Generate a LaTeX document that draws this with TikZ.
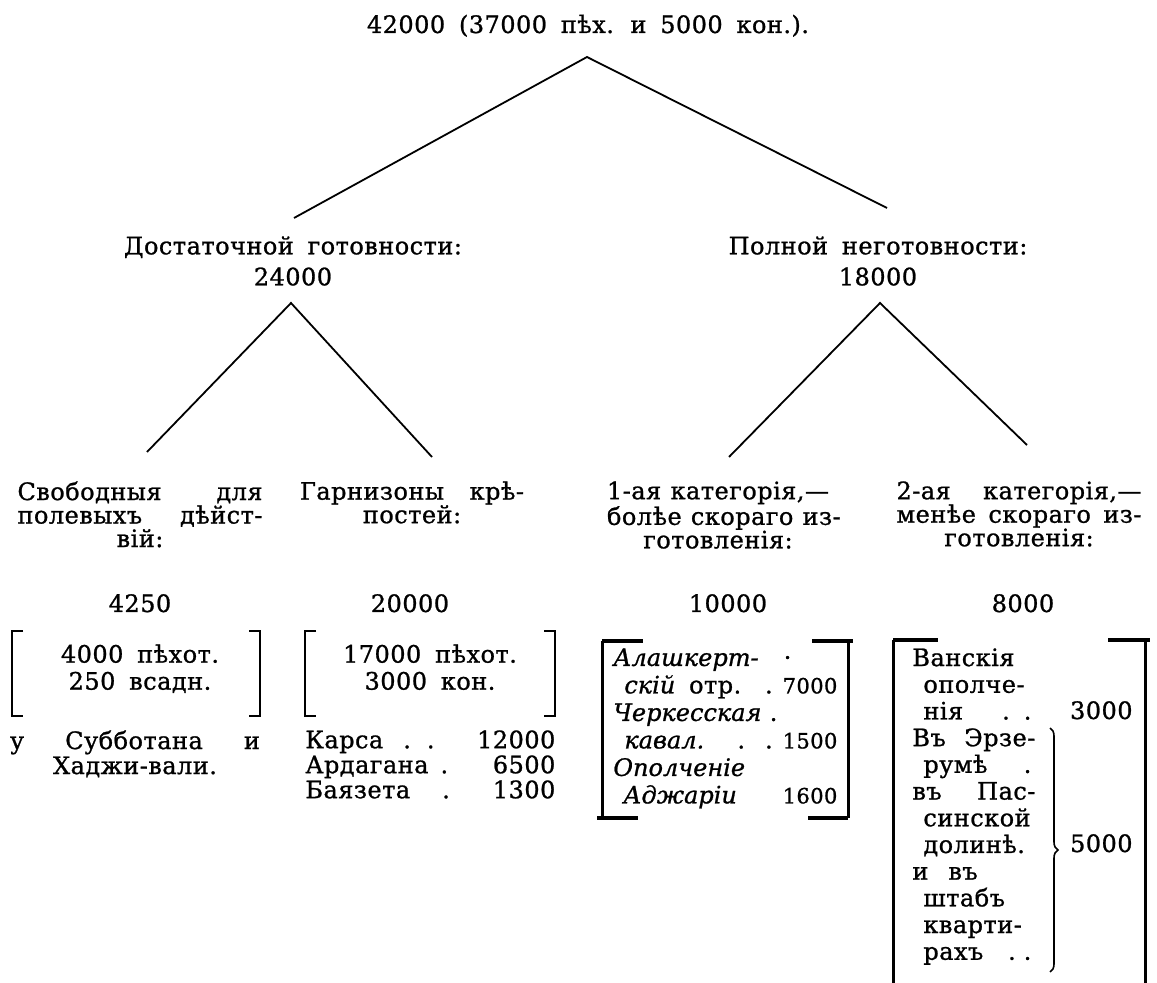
\documentclass[tikz,border=0pt]{standalone}
\usepackage{fontspec}
\setmainfont{DejaVu Serif}[WordSpace=1.7, LetterSpace=2, FakeBold=1, ItalicFeatures={LetterSpace=0}]
\usetikzlibrary{positioning,decorations.pathreplacing}
\tikzset{
  line/.style={line width=0.9pt},
  txt/.style={inner sep=0pt, align=center, font=\fontsize{12}{11.75}\selectfont},
  lvltwo/.style={txt, anchor=north, font=\fontsize{12}{15.5}\selectfont},
  headbox/.style={txt, anchor=north},
  numbox/.style={txt, anchor=base},
  listbox/.style={txt, anchor=north west, align=left, font=\fontsize{12}{13.5}\selectfont},
  thinbrk/.style={line width=1pt},
  thickbrk/.style={line width=1.5pt},
  thickhz/.style={line width=2pt},
  brace/.style={decorate, decoration={brace, amplitude=4pt}, line width=0.8pt}
}
\newcommand{\jl}[2]{\makebox[#1][s]{#2}}
\newcommand{\ind}{\hspace*{5.5pt}}
\newcommand{\sm}[1]{{\fontsize{10.5}{10}\selectfont #1}}

\begin{document}
\begin{tikzpicture}[x=0.5pt, y=-0.5pt]
  \useasboundingbox (0,0) rectangle (1157,983);
  % top
  \node[numbox] (total) at (588,33) {42000 (37000 пѣх. и 5000 кон.).};
  \coordinate (fork0) at (587,57);
  \coordinate (end0l) at (294,218);
  \coordinate (end0r) at (887,208);
  \draw[line] (end0l) -- (fork0) -- (end0r);
  % second level
  \node[lvltwo] (ready) at (293,236) {Достаточной готовности:\\24000};
  \node[lvltwo] (unready) at (878,236) {Полной неготовности:\\18000};
  \coordinate (fork1) at (291,303);
  \coordinate (end1l) at (147,452);
  \coordinate (end1r) at (432,457);
  \coordinate (fork2) at (880,303);
  \coordinate (end2l) at (729,457);
  \coordinate (end2r) at (1027,445);
  \draw[line] (end1l) -- (fork1) -- (end1r);
  \draw[line] (end2l) -- (fork2) -- (end2r);
  % third level
  \node[headbox] (free) at (140,481) {\jl{122.5pt}{Свободныя для}\\\jl{122.5pt}{полевыхъ дѣйст-}\\вій:};
  \node[headbox] (garr) at (412,481) {\jl{112pt}{Гарнизоны крѣ-}\\постей:};
  \node[headbox] (cat1) at (718,481) {\jl{111pt}{1-ая категорія,—}\\\jl{111pt}{болѣе скораго из-}\\готовленія:};
  \node[headbox] (cat2) at (1019,481) {\jl{122.5pt}{2-ая категорія,—}\\\jl{122.5pt}{менѣе скораго из-}\\готовленія:};
  \node[numbox] (freenum) at (140,612) {4250};
  \node[numbox] (garrnum) at (410,612) {20000};
  \node[numbox] (cat1num) at (728,612) {10000};
  \node[numbox] (cat2num) at (1023,612) {8000};
  % column 1
  \draw[thinbrk] (23,631) -- (12,631) -- (12,716) -- (23,716);
  \draw[thinbrk] (249,631) -- (260,631) -- (260,716) -- (249,716);
  \node[headbox, font=\fontsize{12}{13.5}\selectfont] (freein) at (140,644) {4000 пѣхот.\\250 всадн.};
  \node[headbox, font=\fontsize{12}{12.5}\selectfont] (freeat) at (135,730) {\jl{125pt}{у Субботана и}\\Хаджи-вали.};
  % column 2
  \draw[thinbrk] (316,631) -- (305,631) -- (305,716) -- (316,716);
  \draw[thinbrk] (544,631) -- (555,631) -- (555,716) -- (544,716);
  \node[headbox, font=\fontsize{12}{13.5}\selectfont] (garrin) at (430,644) {17000 пѣхот.\\3000 кон.};
  \node[listbox, font=\fontsize{12}{12.5}\selectfont] (garrlist) at (305,730)
    {\jl{125pt}{Карса\hspace{10pt}.\hspace{8pt}.\hfill 12000}\\
     \jl{125pt}{Ардагана\hspace{6pt}.\hfill 6500}\\
     \jl{125pt}{Баязета\hspace{16pt}.\hfill 1300}};
  % column 3
  \draw[thickbrk] (602,641) -- (602,818);
  \draw[thickhz] (602,641) -- (643,641);
  \draw[thickhz] (597,818) -- (638,818);
  \draw[thickbrk] (848,641) -- (848,818);
  \draw[thickhz] (812,641) -- (853,641);
  \draw[thickhz] (808,818) -- (848,818);
  \node[listbox, font=\fontsize{12}{13.75}\selectfont] (cat1list) at (613,648)
    {\jl{112pt}{\textit{Алашкерт-}\hfill·\hspace*{23pt}}\\
     \jl{112pt}{\ind\textit{скій} отр.\hfill.\hspace{5pt}\sm{7000}}\\
     \jl{112pt}{\textit{Черкесская}\hfill.\hspace*{30pt}}\\
     \jl{112pt}{\ind\textit{кавал.}\hfill.\hspace{10pt}.\hspace{5pt}\sm{1500}}\\
     \textit{Ополченіе}\\
     \jl{112pt}{\hspace*{5pt}\textit{Аджаріи}\hfill \sm{1600}}};
  % column 4
  \draw[thickbrk] (893,640) -- (893,983);
  \draw[thickhz] (893,640) -- (938,640);
  \draw[thickbrk] (1145,640) -- (1145,983);
  \draw[thickhz] (1108,640) -- (1150,640);
  \node[listbox, font=\fontsize{12}{13.35}\selectfont] (cat2list) at (912,648)
    {Ванскія\\
     \ind ополче-\\
     \jl{59.5pt}{\ind нія\hfill.\hspace{7pt}.}\\
     \jl{61.5pt}{Въ Эрзе-}\\
     \jl{59.5pt}{\ind румѣ\hfill.}\\
     \jl{61.5pt}{въ Пас-}\\
     \ind синской\\
     \ind долинѣ.\\
     и\hspace{10pt}въ\\
     \ind штабъ\\
     \ind кварти-\\
     \jl{59.5pt}{\ind рахъ\hfill.\hspace{4pt}.}};
  \node[numbox, anchor=base east] (vanq) at (1133,719) {3000};
  \node[numbox, anchor=base east] (erzq) at (1133,852) {5000};
  \coordinate (bracetop) at (1050,728);
  \coordinate (bracebot) at (1050,972);
  \draw[brace] (bracetop) -- (bracebot);
\end{tikzpicture}
\end{document}
